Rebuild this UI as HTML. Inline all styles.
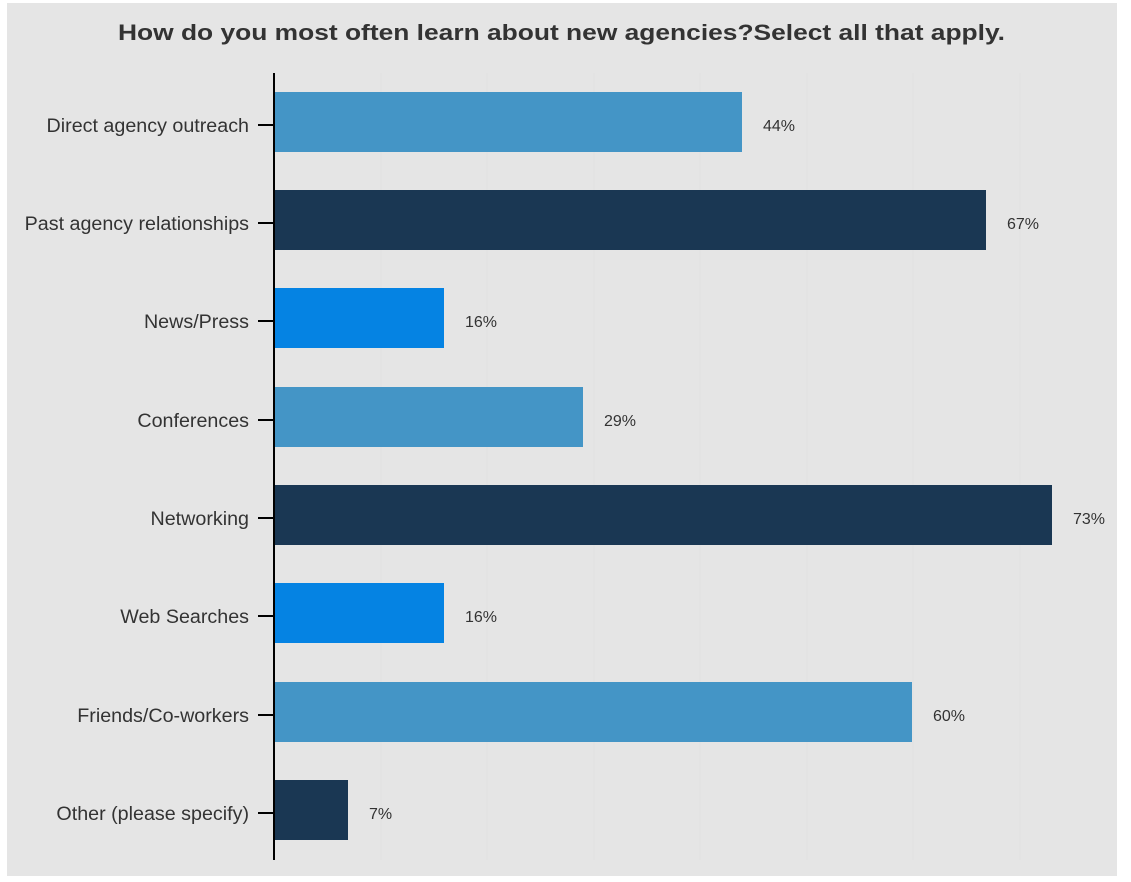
<!DOCTYPE html>
<html><head><meta charset="utf-8"><style>
html,body{margin:0;padding:0;background:#fff;}
svg{display:block;}
</style></head><body>
<svg width="1131" height="882" xmlns="http://www.w3.org/2000/svg" font-family="Liberation Sans, Arial, sans-serif">
<rect x="7" y="3" width="1110" height="873" fill="#e5e5e5"/>
<g stroke="#e1e1e1" stroke-width="1">
<line x1="381" y1="73" x2="381" y2="860"/><line x1="487" y1="73" x2="487" y2="860"/>
<line x1="594" y1="73" x2="594" y2="860"/><line x1="700" y1="73" x2="700" y2="860"/>
<line x1="807" y1="73" x2="807" y2="860"/><line x1="913" y1="73" x2="913" y2="860"/>
<line x1="1020" y1="73" x2="1020" y2="860"/>
</g>
<text x="118" y="40" font-size="22" font-weight="bold" fill="#333" textLength="887" lengthAdjust="spacingAndGlyphs">How do you most often learn about new agencies?Select all that apply.</text>
<g>
<rect x="274" y="92" width="468" height="60" fill="#4495c6"/>
<rect x="274" y="190" width="712" height="60" fill="#1a3753"/>
<rect x="274" y="288" width="170" height="60" fill="#0583e3"/>
<rect x="274" y="387" width="309" height="60" fill="#4495c6"/>
<rect x="274" y="485" width="778" height="60" fill="#1a3753"/>
<rect x="274" y="583" width="170" height="60" fill="#0583e3"/>
<rect x="274" y="682" width="638" height="60" fill="#4495c6"/>
<rect x="274" y="780" width="74" height="60" fill="#1a3753"/>
</g>
<line x1="274" y1="73" x2="274" y2="860" stroke="#000" stroke-width="2"/>
<g stroke="#000" stroke-width="2">
<line x1="258" y1="125" x2="274" y2="125"/><line x1="258" y1="223" x2="274" y2="223"/>
<line x1="258" y1="321" x2="274" y2="321"/><line x1="258" y1="420" x2="274" y2="420"/>
<line x1="258" y1="518" x2="274" y2="518"/><line x1="258" y1="616" x2="274" y2="616"/>
<line x1="258" y1="715" x2="274" y2="715"/><line x1="258" y1="813" x2="274" y2="813"/>
</g>
<g font-size="19.7" fill="#333" text-anchor="end">
<text x="249" y="132">Direct agency outreach</text>
<text x="249" y="230">Past agency relationships</text>
<text x="249" y="328">News/Press</text>
<text x="249" y="427">Conferences</text>
<text x="249" y="525">Networking</text>
<text x="249" y="623">Web Searches</text>
<text x="249" y="722">Friends/Co-workers</text>
<text x="249" y="820">Other (please specify)</text>
</g>
<g font-size="16" fill="#333">
<text x="763" y="131">44%</text>
<text x="1007" y="229">67%</text>
<text x="465" y="327">16%</text>
<text x="604" y="426">29%</text>
<text x="1073" y="524">73%</text>
<text x="465" y="622">16%</text>
<text x="933" y="721">60%</text>
<text x="369" y="819">7%</text>
</g>
</svg>
</body></html>
